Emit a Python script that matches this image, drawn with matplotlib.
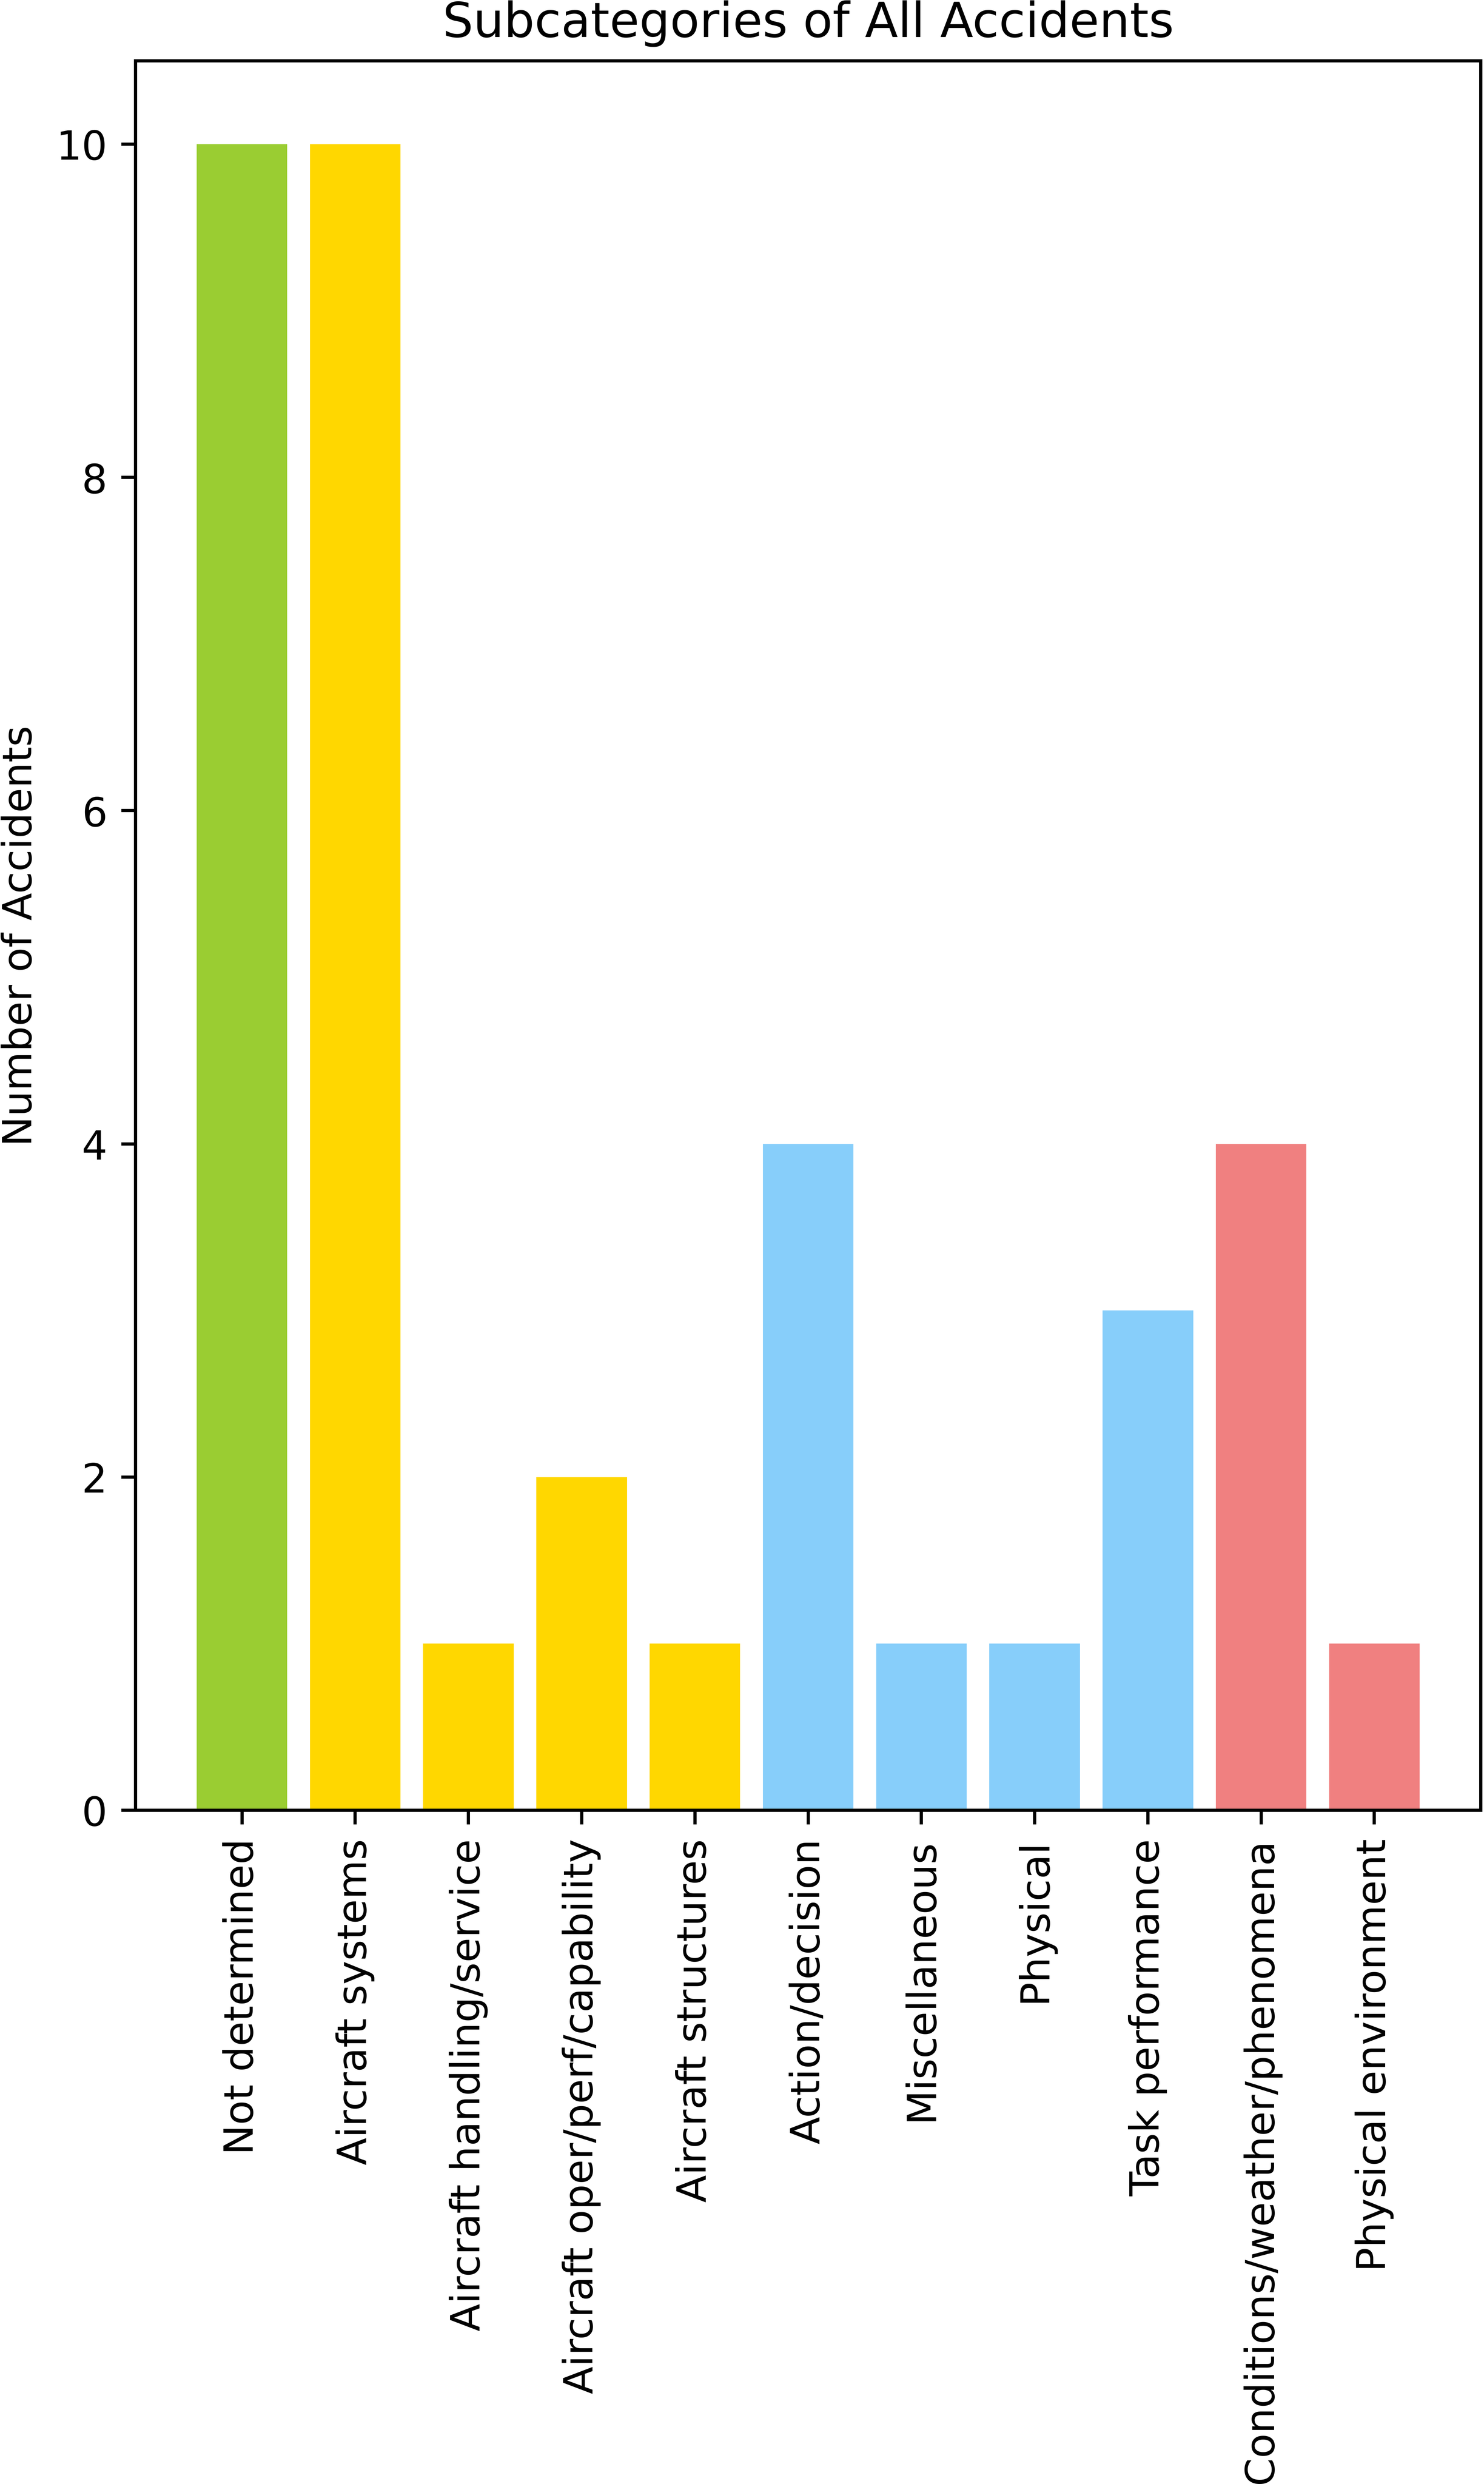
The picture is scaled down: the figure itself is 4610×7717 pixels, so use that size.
import matplotlib
matplotlib.use("Agg")
import matplotlib.pyplot as plt

categories = [
    "Not determined",
    "Aircraft systems",
    "Aircraft handling/service",
    "Aircraft oper/perf/capability",
    "Aircraft structures",
    "Action/decision",
    "Miscellaneous",
    "Physical",
    "Task performance",
    "Conditions/weather/phenomena",
    "Physical environment",
]
counts = [10, 10, 1, 2, 1, 4, 1, 1, 3, 4, 1]
groups = ["Not determined", "Aircraft", "Aircraft", "Aircraft", "Aircraft",
          "Personnel", "Personnel", "Personnel", "Personnel",
          "Environment", "Environment"]
group_colors = {
    "Not determined": "yellowgreen",
    "Aircraft": "gold",
    "Personnel": "lightskyblue",
    "Environment": "lightcoral",
}

DPI = 900
fig = plt.figure(figsize=(4610 / DPI, 7718 / DPI), dpi=DPI)
ax = fig.add_axes([421 / 4610, 1 - 5625 / 7718, (4600 - 421) / 4610, (5625 - 190) / 7718])

colors = [group_colors[g] for g in groups]
ax.bar(range(len(categories)), counts, color=colors, width=0.8)
ax.set_xticks(range(len(categories)))
ax.set_xticklabels(categories, rotation=90)
ax.set_ylim(0, 10.5)
ax.set_ylabel("Number of Accidents")
ax.set_title("Subcategories of All Accidents")

fig.savefig("out.png", dpi=DPI)
